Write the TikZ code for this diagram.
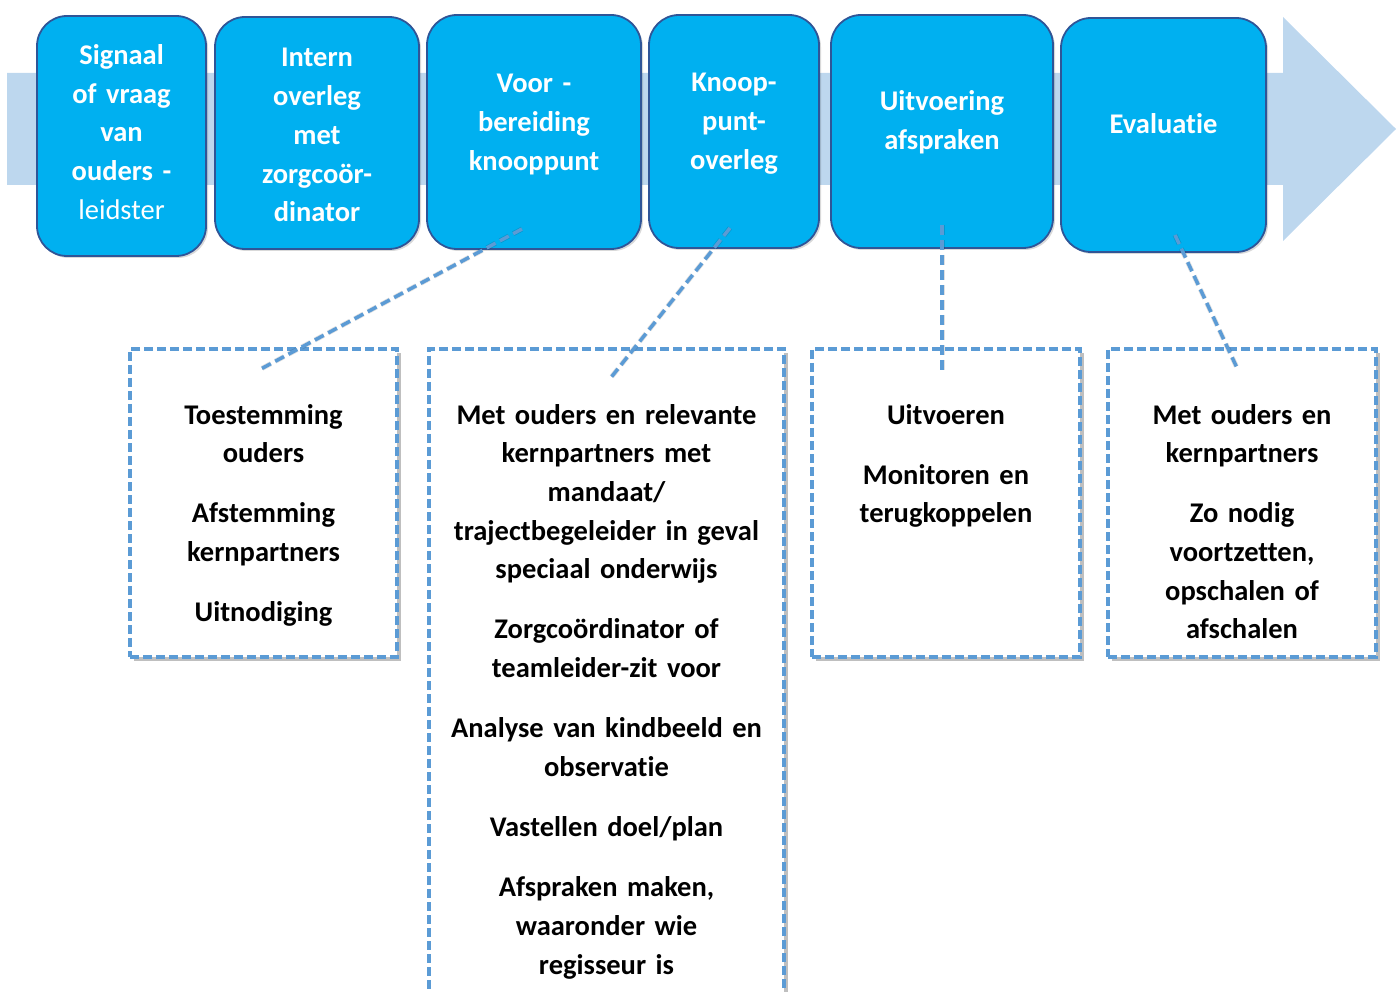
\documentclass[tikz,border=0pt]{standalone}
\usepackage{fontspec}
\setmainfont{Carlito}[Ligatures=CommonOff]
\usetikzlibrary{shadows}
\definecolor{stepfill}{HTML}{00B0F0}
\definecolor{stepline}{HTML}{2F5597}
\definecolor{arrowbg}{HTML}{BDD7EE}
\definecolor{dashblue}{HTML}{5B9BD5}
\begin{document}
\begin{tikzpicture}[x=1pt,y=-1pt,
  stepbox/.style={draw=stepline, line width=1.8pt, fill=stepfill, rounded corners=30pt,
    inner sep=0pt, drop shadow={shadow xshift=2pt, shadow yshift=-2pt, opacity=0.15, fill=black}},
  infobox/.style={draw=dashblue, line width=3.2pt, dash pattern=on 9pt off 4pt, fill=white,
    inner sep=0pt, drop shadow={shadow xshift=4pt, shadow yshift=-4pt, opacity=0.25, fill=black}},
  steptext/.style={anchor=base, text width=220pt, align=center, inner sep=0pt, text=white,
    font=\fontsize{28.5}{38.7}\selectfont\bfseries},
  infotext/.style={anchor=base, text width=350pt, align=center, inner sep=0pt, text=black,
    font=\fontsize{28.5}{38.7}\selectfont\bfseries},
  link/.style={draw=dashblue, line width=3.5pt, dash pattern=on 10pt off 5pt},
  linkshadow/.style={draw=black, opacity=0.12, line width=5pt, dash pattern=on 10pt off 5pt}
]
\useasboundingbox (0,0) rectangle (1398,992);
\clip (0,0) rectangle (1398,992);
% background arrow
\fill[arrowbg] (7,73) -- (1283,73) -- (1283,17) -- (1396,129) -- (1283,241) -- (1283,185) -- (7,185) -- cycle;
% step boxes
\node[stepbox, minimum width=169pt, minimum height=240pt] (s1) at (121.5,136) {};
\node[stepbox, minimum width=204pt, minimum height=232pt] (s2) at (317,133) {};
\node[stepbox, minimum width=214pt, minimum height=234pt] (s3) at (534,132) {};
\node[stepbox, minimum width=170pt, minimum height=233pt] (s4) at (734,131.5) {};
\node[stepbox, minimum width=222pt, minimum height=233pt] (s5) at (942,131.5) {};
\node[stepbox, minimum width=205pt, minimum height=234pt] (s6) at (1163.5,135) {};
% step texts
\node[steptext] (t1) at (121.5,64.5) {Signaal\\of vraag\\van\\ouders -\\{\mdseries leidster}};
\node[steptext] (t2) at (317,67) {Intern\\overleg\\met\\zorgcoör-\\dinator};
\node[steptext] (t3) at (534,93) {Voor -\\bereiding\\knooppunt};
\node[steptext] (t4) at (734,92) {Knoop-\\punt-\\overleg};
\node[steptext] (t5) at (942,111) {Uitvoering\\afspraken};
\node[steptext] (t6) at (1163.5,134) {Evaluatie};
% info boxes
\node[infobox, minimum width=267pt, minimum height=308pt] (d1) at (263.5,503) {};
\node[infobox, minimum width=355pt, minimum height=661pt] (d2) at (606.5,679.5) {};
\node[infobox, minimum width=268pt, minimum height=308pt] (d3) at (946,503) {};
\node[infobox, minimum width=268pt, minimum height=308pt] (d4) at (1242,503) {};
% info texts
\node[infotext] (i1) at (263.5,424) {Toestemming\\ouders\\[21.5pt]Afstemming\\kernpartners\\[21.5pt]Uitnodiging};
\node[infotext] (i2) at (606.5,424) {Met ouders en relevante\\kernpartners met\\mandaat/\\trajectbegeleider in geval\\speciaal onderwijs\\[21.5pt]Zorgcoördinator of\\teamleider-zit voor\\[21.5pt]Analyse van kindbeeld en\\observatie\\[21.5pt]Vastellen doel/plan\\[21.5pt]Afspraken maken,\\waaronder wie\\regisseur is};
\node[infotext] (i3) at (946,424) {Uitvoeren\\[21.5pt]Monitoren en\\terugkoppelen};
\node[infotext] (i4) at (1242,424) {Met ouders en\\kernpartners\\[21.5pt]Zo nodig\\voortzetten,\\opschalen of\\afschalen};
% connector end points
\coordinate (c1a) at (522,229);
\coordinate (c1b) at (259,370);
\coordinate (c2a) at (730,228);
\coordinate (c2b) at (609,380);
\coordinate (c3a) at (942,225);
\coordinate (c3b) at (942,370);
\coordinate (c4a) at (1175,235);
\coordinate (c4b) at (1238,370);
% connector shadows
\begin{scope}[shift={(3,3)}]
\draw[linkshadow] (c1a) -- (c1b);
\draw[linkshadow] (c2a) -- (c2b);
\draw[linkshadow] (c3a) -- (c3b);
\draw[linkshadow] (c4a) -- (c4b);
\end{scope}
% connectors
\draw[link] (c1a) -- (c1b);
\draw[link] (c2a) -- (c2b);
\draw[link] (c3a) -- (c3b);
\draw[link] (c4a) -- (c4b);
\end{tikzpicture}
\end{document}
